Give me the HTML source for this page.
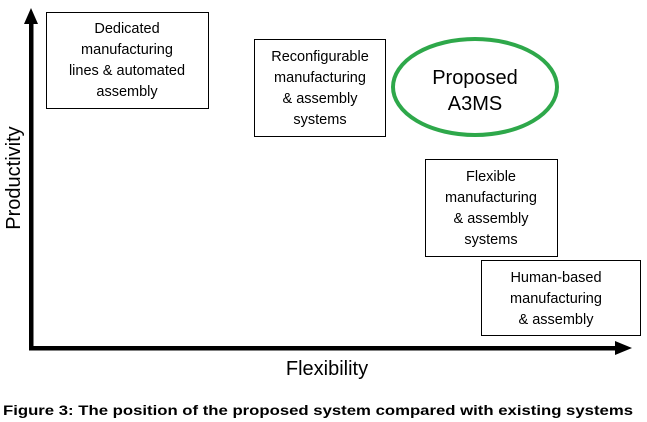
<!DOCTYPE html>
<html><head><meta charset="utf-8"><style>
html,body{margin:0;padding:0;background:#fff;}
svg{display:block;font-family:"Liberation Sans",sans-serif;}
</style></head><body>
<svg width="647" height="422" viewBox="0 0 647 422" xmlns="http://www.w3.org/2000/svg">
<g fill="#000">
<rect x="29" y="22" width="4.5" height="328"/>
<polygon points="31,8 24,24 38,24"/>
<rect x="29" y="346" width="590" height="4.5"/>
<polygon points="632,348 615,341 615,355"/>
</g>
<g fill="#fff" stroke="#000" stroke-width="1">
<rect x="46.5" y="12.5" width="162" height="96"/>
<rect x="254.5" y="39.5" width="131" height="97"/>
<rect x="425.5" y="159.5" width="132" height="97"/>
<rect x="481.5" y="260.5" width="159" height="75"/>
</g>
<ellipse cx="475" cy="87" rx="82" ry="48" fill="none" stroke="#2ea84a" stroke-width="4"/>
<g font-size="14.5" text-anchor="middle" fill="#000">
<text x="127" y="33">Dedicated</text>
<text x="127" y="54">manufacturing</text>
<text x="127" y="75">lines &amp; automated</text>
<text x="127" y="96">assembly</text>
<text x="320" y="61">Reconfigurable</text>
<text x="320" y="82">manufacturing</text>
<text x="320" y="103">&amp; assembly</text>
<text x="320" y="124">systems</text>
<text x="491" y="181">Flexible</text>
<text x="491" y="202">manufacturing</text>
<text x="491" y="223">&amp; assembly</text>
<text x="491" y="244">systems</text>
<text x="556" y="282">Human-based</text>
<text x="556" y="303">manufacturing</text>
<text x="556" y="324">&amp; assembly</text>
</g>
<g font-size="20" text-anchor="middle" fill="#000">
<text x="475" y="84">Proposed</text>
<text x="475" y="110">A3MS</text>
<text x="327" y="375">Flexibility</text>
<text transform="translate(20,178) rotate(-90)">Productivity</text>
</g>
<text x="3" y="415" font-size="14" font-weight="bold" textLength="630" lengthAdjust="spacingAndGlyphs">Figure 3: The position of the proposed system compared with existing systems</text>
</svg>
</body></html>
